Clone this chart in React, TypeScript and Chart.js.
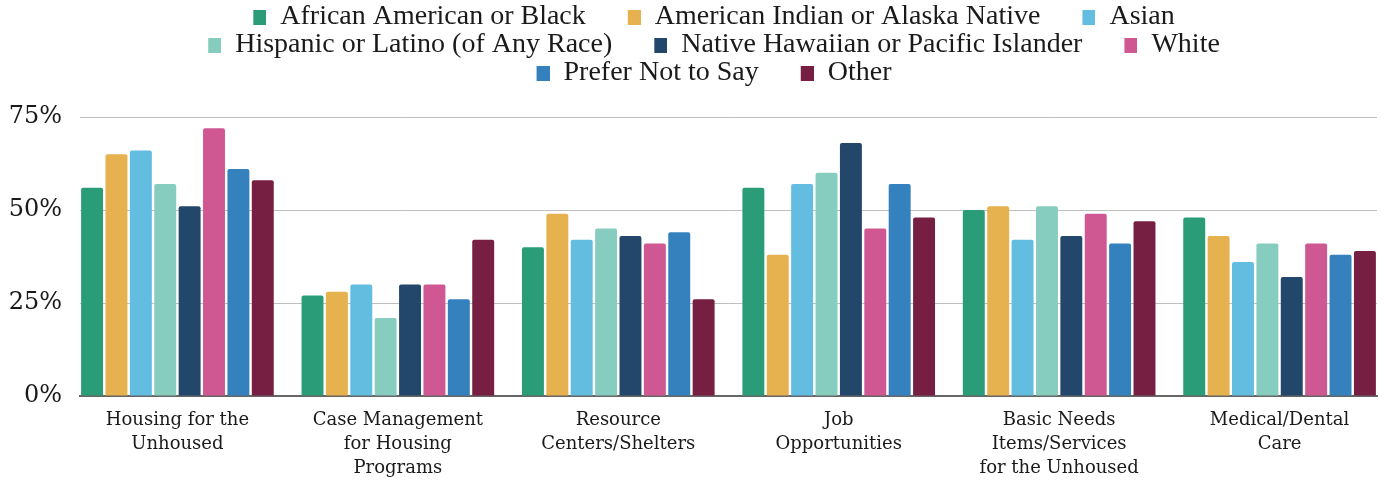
import React, { useEffect, useRef } from "react";
import { Chart, registerables } from "chart.js";

Chart.register(...registerables);

const categories: string[][] = [
  ["Housing for the", "Unhoused"],
  ["Case Management", "for Housing", "Programs"],
  ["Resource", "Centers/Shelters"],
  ["Job", "Opportunities"],
  ["Basic Needs", "Items/Services", "for the Unhoused"],
  ["Medical/Dental", "Care"],
];

const seriesNames = [
  "African American or Black",
  "American Indian or Alaska Native",
  "Asian",
  "Hispanic or Latino (of Any Race)",
  "Native Hawaiian or Pacific Islander",
  "White",
  "Prefer Not to Say",
  "Other",
];

const black = [56, 27, 40, 56, 50, 48];
const aian = [65, 28, 49, 38, 51, 43];
const asian = [66, 30, 42, 57, 42, 36];
const hispanic = [57, 21, 45, 60, 51, 41];
const nhpi = [51, 30, 43, 68, 43, 32];
const white = [72, 30, 41, 45, 49, 41];
const preferNot = [61, 26, 44, 57, 41, 38];
const other = [58, 42, 26, 48, 47, 39];

const seriesValues = [black, aian, asian, hispanic, nhpi, white, preferNot, other];

const colors = [
  "#2a9d78",
  "#e6b14f",
  "#62bde0",
  "#87cdbf",
  "#23476b",
  "#cf5893",
  "#3481bd",
  "#771f43",
];

const yTicks = [0, 25, 50, 75];

const SWATCH_GAP = 42;
const SWATCH_W = 13;
const SWATCH_H = 15;

export default function App() {
  const ref = useRef<HTMLCanvasElement | null>(null);

  useEffect(() => {
    if (!ref.current) return;

    const swatches = colors.map((c) => {
      const cv = document.createElement("canvas");
      cv.width = SWATCH_GAP + SWATCH_W;
      cv.height = SWATCH_H;
      const cx = cv.getContext("2d")!;
      cx.fillStyle = c;
      cx.fillRect(SWATCH_GAP, 0, SWATCH_W, SWATCH_H);
      return cv;
    });

    const legendTweak = {
      id: "legendTweak",
      afterInit(chart: any) {
        const lg = chart.legend;
        if (!lg || lg.__patched) return;
        const orig = lg.fit;
        lg.fit = function () {
          const mw = this.maxWidth;
          this.maxWidth = Math.min(mw, 1250);
          orig.call(this);
          this.maxWidth = mw;
          this.width = mw;
          this.height += 20;
        };
        lg.__patched = true;
      },
    };

    const chart = new Chart(ref.current, {
      type: "bar",
      data: {
        datasets: seriesNames.map((name, i) => ({
          label: name,
          data: seriesValues[i].map((v, j) => ({ x: j, y: v })),
          backgroundColor: colors[i],
          borderWidth: 0,
          borderRadius: 2,
          borderSkipped: "start",
          categoryPercentage: 0.885,
          barPercentage: 0.9,
        })),
      },
      plugins: [legendTweak],
      options: {
        responsive: false,
        animation: false,
        layout: { padding: { top: 3, left: 9, right: 7, bottom: 1 } },
        plugins: {
          tooltip: { enabled: false },
          legend: {
            position: "top",
            labels: {
              usePointStyle: true,
              pointStyleWidth: SWATCH_GAP + SWATCH_W,
              boxHeight: SWATCH_H,
              padding: 0,
              color: "#1a1a1a",
              font: { family: "'Liberation Serif', serif", size: 28 },
              generateLabels: (ch: any) => {
                const items = (Chart.defaults.plugins.legend.labels as any).generateLabels(ch);
                return items.map((it: any) => ({ ...it, pointStyle: swatches[it.datasetIndex] }));
              },
            },
          },
        },
        scales: {
          x: {
            type: "linear",
            min: -0.442,
            max: 5.442,
            bounds: "data",
            offset: false,
            grid: { display: false, drawTicks: false },
            border: { display: true, color: "#666666", width: 2 },
            afterBuildTicks: (scale: any) => {
              scale.ticks = categories.map((_, i) => ({ value: i }));
            },
            afterFit: (scale: any) => {
              scale.height = 84;
            },
            ticks: {
              autoSkip: false,
              maxRotation: 0,
              minRotation: 0,
              padding: 12,
              color: "#1a1a1a",
              font: { family: "'DejaVu Serif', serif", size: 18, lineHeight: 24 / 18 },
              callback: (value: any) => categories[Math.round(Number(value))] ?? "",
            },
          },
          y: {
            min: 0,
            max: 75,
            afterBuildTicks: (scale: any) => {
              scale.ticks = yTicks.map((v) => ({ value: v }));
            },
            afterFit: (scale: any) => {
              scale.width = 71;
            },
            grid: { color: "#bfbfbf", lineWidth: 1, drawTicks: false },
            border: { display: false },
            ticks: {
              padding: 18,
              color: "#1a1a1a",
              font: { family: "'DejaVu Serif', serif", size: 24 },
              callback: (v: any) => `${v}%`,
            },
          },
        },
      } as any,
    });

    return () => chart.destroy();
  }, []);

  return (
    <div style={{ position: "absolute", left: 0, top: 0, width: 1384, height: 481, background: "#fff" }}>
      <canvas ref={ref} width={1384} height={481} />
    </div>
  );
}
